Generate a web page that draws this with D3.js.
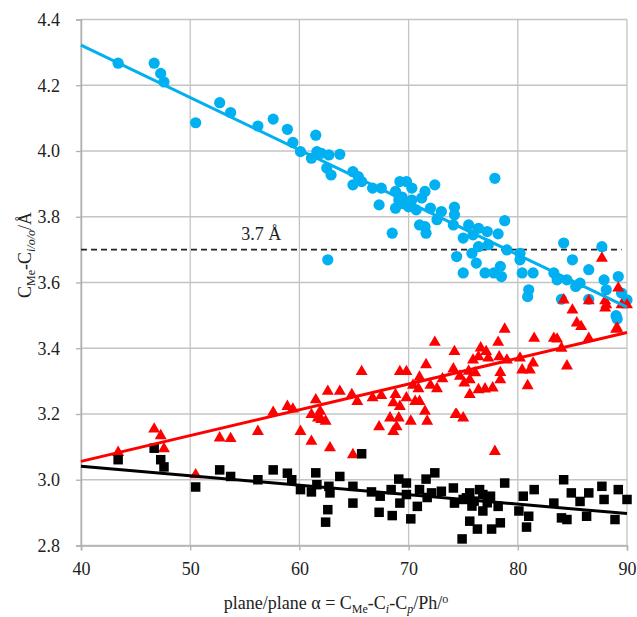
<!DOCTYPE html>
<html>
<head>
<meta charset="utf-8">
<script src="https://cdn.jsdelivr.net/npm/d3@7"></script>
<style>
  body { margin: 0; background: #fff; }
</style>
</head>
<body>
<div class="chart"></div>
<script>
// blue circles: C_Me...C distance vs plane angle
const bluePoints = [
  [43.4,4.267],[46.7,4.267],[47.3,4.236],[47.6,4.21],[50.5,4.086],[52.7,4.147],[53.7,4.117],[56.2,4.076],
  [57.6,4.097],[58.9,4.066],[59.4,4.026],[60.1,3.998],[61.5,4.048],[61.1,3.978],[61.6,3.998],[62.0,3.993],
  [62.7,3.988],[63.7,3.99],[62.5,3.948],[62.9,3.927],[64.9,3.937],[65.4,3.922],[64.9,3.897],[65.7,3.907],
  [66.7,3.887],[67.5,3.887],[69.2,3.907],[69.8,3.907],[67.3,3.836],[68.8,3.877],[69.1,3.851],[68.8,3.826],
  [70.3,3.887],[70.3,3.851],[70.7,3.821],[71.5,3.877],[72.4,3.897],[72.0,3.826],[72.6,3.791],[71.0,3.775],
  [71.6,3.75],[68.5,3.75],[71.2,3.857],[73.0,3.816],[74.2,3.829],[74.2,3.806],[71.5,3.77],[74.1,3.775],
  [75.5,3.775],[76.4,3.765],[77.2,3.755],[75.0,3.735],[75.9,3.745],[77.9,3.917],[78.8,3.788],[78.2,3.748],
  [76.4,3.709],[77.3,3.715],[79.0,3.699],[75.8,3.689],[74.4,3.679],[76.2,3.659],[80.2,3.669],[80.2,3.689],
  [75.0,3.629],[77.0,3.629],[77.8,3.629],[78.4,3.649],[78.5,3.618],[80.4,3.629],[81.4,3.629],[81.0,3.578],
  [80.9,3.557],[84.2,3.72],[87.7,3.709],[85.0,3.669],[86.5,3.639],[87.9,3.608],[89.2,3.618],[83.3,3.629],
  [83.6,3.608],[84.5,3.608],[85.7,3.598],[85.3,3.588],[88.1,3.578],[89.5,3.568],[90.0,3.547],[84.0,3.549],
  [86.5,3.549],[89.0,3.499],[89.1,3.489],[62.6,3.669],[69.5,3.84],[70.0,3.83],[69.4,3.86]
];

// red triangles
const redPoints = [
  [43.4,3.083],[46.7,3.154],[47.3,3.134],[47.6,3.094],[50.5,3.015],[52.7,3.127],[53.7,3.125],[56.2,3.147],
  [57.6,3.205],[58.9,3.223],[59.4,3.215],[60.1,3.147],[61.1,3.198],[61.5,3.243],[61.1,3.117],[61.7,3.188],
  [61.9,3.208],[62.0,3.183],[62.4,3.178],[62.6,3.269],[63.7,3.269],[64.8,3.259],[65.3,3.238],[65.7,3.329],
  [62.8,3.097],[64.9,3.076],[66.7,3.249],[67.5,3.256],[68.8,3.259],[68.6,3.234],[69.2,3.223],[69.8,3.249],
  [67.3,3.161],[68.3,3.188],[69.1,3.188],[68.6,3.147],[68.9,3.161],[70.2,3.178],[70.6,3.238],[71.0,3.238],
  [71.5,3.208],[71.7,3.178],[69.2,3.329],[69.8,3.329],[71.6,3.35],[71.0,3.312],[70.4,3.287],[70.9,3.277],
  [72.0,3.287],[72.6,3.277],[73.1,3.307],[72.4,3.418],[74.2,3.39],[74.1,3.337],[74.3,3.198],[78.8,3.458],
  [76.6,3.401],[77.1,3.39],[78.2,3.418],[75.9,3.364],[76.4,3.374],[77.3,3.37],[78.3,3.374],[79.0,3.364],
  [80.2,3.37],[80.4,3.334],[81.4,3.355],[81.1,3.334],[81.5,3.43],[83.3,3.43],[83.6,3.428],[84.0,3.4],
  [86.5,3.43],[84.5,3.346],[80.9,3.286],[78.4,3.326],[78.4,3.304],[74.7,3.315],[75.5,3.33],[75.6,3.304],
  [76.1,3.325],[75.1,3.294],[75.6,3.259],[76.4,3.274],[77.0,3.276],[77.7,3.279],[74.4,3.198],[75.0,3.188],
  [77.9,3.086],[85.0,3.516],[85.4,3.477],[85.8,3.466],[89.0,3.458],[88.1,3.532],[89.5,3.532],[87.7,3.674],
  [84.2,3.547],[86.5,3.544],[88.0,3.544],[88.0,3.522],[89.2,3.583],[90.0,3.532],[89.1,3.461]
];

// black squares
const blackPoints = [
  [43.4,3.061],[46.7,3.096],[47.3,3.061],[47.6,3.039],[50.5,2.978],[52.7,3.03],[53.7,3.01],[56.2,3.0],
  [57.6,3.03],[58.9,3.02],[59.3,3.0],[60.1,2.97],[61.1,2.963],[61.5,3.021],[61.6,2.985],[62.7,2.98],
  [62.8,2.96],[63.7,3.01],[62.6,2.909],[62.4,2.871],[65.7,3.079],[64.9,2.98],[64.9,2.929],[66.6,2.963],
  [67.4,2.95],[67.3,2.901],[68.4,2.97],[68.5,2.891],[69.1,3.002],[69.8,2.99],[69.2,2.929],[69.8,2.955],
  [70.2,2.881],[70.8,2.919],[71.0,2.97],[71.6,3.002],[72.4,3.021],[71.7,2.946],[72.1,2.96],[73.0,2.965],
  [74.1,2.975],[74.2,2.929],[75.0,2.94],[75.6,2.96],[76.5,2.97],[77.5,2.95],[74.9,2.82],[75.6,2.874],
  [76.3,2.85],[77.6,2.85],[78.4,2.869],[76.8,2.905],[78.2,2.919],[78.8,2.99],[80.5,2.95],[81.5,2.97],
  [80.1,2.905],[81.0,2.889],[80.8,2.856],[84.2,3.0],[83.3,2.929],[84.0,2.884],[84.5,2.879],[84.9,2.96],
  [85.7,2.934],[86.5,2.96],[86.3,2.889],[87.7,2.98],[87.9,2.94],[89.2,2.97],[90.0,2.94],[88.9,2.879],
  [75.3,2.945],[76.0,2.935],[76.8,2.955],[77.2,2.93],[75.8,2.92]
];

// trend lines: value at x = 40 and x = 90
const trendX = [40, 90];
const blueTrend = [4.322, 3.525];
const redTrend = [3.056, 3.448];
const blackTrend = [3.041, 2.897];

const refLevel = 3.7;
const xTicks = [40, 50, 60, 70, 80, 90];
const yTicks = [2.8, 3.0, 3.2, 3.4, 3.6, 3.8, 4.0, 4.2, 4.4];

const FONT = '"Liberation Serif", "DejaVu Serif", serif';

const W = 637, H = 617;
const margin = {top: 19.5, right: 10, bottom: 71.5, left: 81};
const width = W - margin.left - margin.right;
const height = H - margin.top - margin.bottom;

const svg = d3.select('.chart')
  .append('svg')
    .attr('width', W)
    .attr('height', H)
    .style('font-family', FONT);

const g = svg.append('g')
  .attr('transform', `translate(${margin.left}, ${margin.top})`);

const x = d3.scaleLinear().domain([40, 90]).range([0, width]);
const y = d3.scaleLinear().domain([2.8, 4.4]).range([height, 0]);

// grid
g.append('g')
  .selectAll('line')
  .data(yTicks)
  .enter().append('line')
    .attr('x1', 0).attr('x2', width)
    .attr('y1', d => y(d)).attr('y2', d => y(d))
    .attr('stroke', '#c4c4c4').attr('stroke-width', 1.3);

g.append('g')
  .selectAll('line')
  .data(xTicks)
  .enter().append('line')
    .attr('x1', d => x(d)).attr('x2', d => x(d))
    .attr('y1', 0).attr('y2', height)
    .attr('stroke', '#c4c4c4').attr('stroke-width', 1.3);

// axes
const yAxis = g.append('g')
  .call(d3.axisLeft(y).tickValues(yTicks).tickFormat(d3.format('.1f')).tickSize(5).tickPadding(16));
const xAxis = g.append('g')
  .attr('transform', `translate(0, ${height})`)
  .call(d3.axisBottom(x).tickValues(xTicks).tickSize(5).tickPadding(12));

[yAxis, xAxis].forEach(a => {
  a.attr('font-family', null);
  a.select('.domain').attr('stroke', '#b0b0b0').attr('stroke-width', 1.5);
  a.selectAll('.tick line').attr('stroke', '#b0b0b0').attr('stroke-width', 1.3);
  a.selectAll('.tick text')
    .style('font-family', FONT)
    .attr('font-size', 18)
    .attr('fill', '#222');
});

// dashed 3.7 line
g.append('line')
  .attr('x1', x(40)).attr('x2', x(89.5))
  .attr('y1', y(refLevel)).attr('y2', y(refLevel))
  .attr('stroke', '#222').attr('stroke-width', 1.6)
  .attr('stroke-dasharray', '6,4');

g.append('text')
  .attr('x', x(56.5))
  .attr('y', y(refLevel) - 10)
  .attr('text-anchor', 'middle')
  .style('font-family', FONT)
  .attr('font-size', 18)
  .attr('fill', '#222')
  .text('3.7 Å');

// markers
g.append('g')
  .selectAll('circle')
  .data(bluePoints)
  .enter().append('circle')
    .attr('cx', d => x(d[0]))
    .attr('cy', d => y(d[1]))
    .attr('r', 5.6)
    .attr('fill', '#00b0f0');

const tri = d3.symbol().type(d3.symbolTriangle).size(62);
g.append('g')
  .selectAll('path')
  .data(redPoints)
  .enter().append('path')
    .attr('d', tri)
    .attr('transform', d => `translate(${x(d[0])}, ${y(d[1])})`)
    .attr('fill', '#ff0000');

const sq = 9.5;
g.append('g')
  .selectAll('rect')
  .data(blackPoints)
  .enter().append('rect')
    .attr('x', d => x(d[0]) - sq / 2)
    .attr('y', d => y(d[1]) - sq / 2)
    .attr('width', sq)
    .attr('height', sq)
    .attr('fill', '#000');

// trend lines
const trends = [
  {vals: blueTrend, color: '#00b0f0'},
  {vals: redTrend, color: '#ff0000'},
  {vals: blackTrend, color: '#000'}
];
const line = d3.line().x(d => x(d[0])).y(d => y(d[1]));
g.append('g')
  .selectAll('path')
  .data(trends)
  .enter().append('path')
    .attr('d', d => line(trendX.map((tx, i) => [tx, d.vals[i]])))
    .attr('stroke', d => d.color)
    .attr('stroke-width', 3)
    .attr('fill', 'none');

// axis titles
const xt = svg.append('text')
  .attr('x', margin.left + width / 2 - 18)
  .attr('y', 609)
  .attr('text-anchor', 'middle')
  .style('font-family', FONT)
  .attr('font-size', 18)
  .attr('fill', '#222');
xt.append('tspan').text('plane/plane α = C');
xt.append('tspan').attr('font-size', 12).attr('dy', 4).text('Me');
xt.append('tspan').attr('dy', -4).text('-C');
xt.append('tspan').attr('font-size', 12).attr('font-style', 'italic').attr('dy', 4).text('i');
xt.append('tspan').attr('dy', -4).text('-C');
xt.append('tspan').attr('font-size', 12).attr('font-style', 'italic').attr('dy', 4).text('p');
xt.append('tspan').attr('dy', -4).text('/Ph/');
xt.append('tspan').attr('font-size', 12).attr('dy', -6).text('o');

const yt = svg.append('text')
  .attr('transform', `translate(31, ${255}) rotate(-90)`)
  .attr('text-anchor', 'middle')
  .style('font-family', FONT)
  .attr('font-size', 18)
  .attr('fill', '#222');
yt.append('tspan').text('C');
yt.append('tspan').attr('font-size', 12).attr('dy', 4).text('Me');
yt.append('tspan').attr('dy', -4).text('-C');
yt.append('tspan').attr('font-size', 12).attr('font-style', 'italic').attr('dy', 4).text('i/o/o');
yt.append('tspan').attr('dy', -4).text('/Å');
</script>
</body>
</html>
